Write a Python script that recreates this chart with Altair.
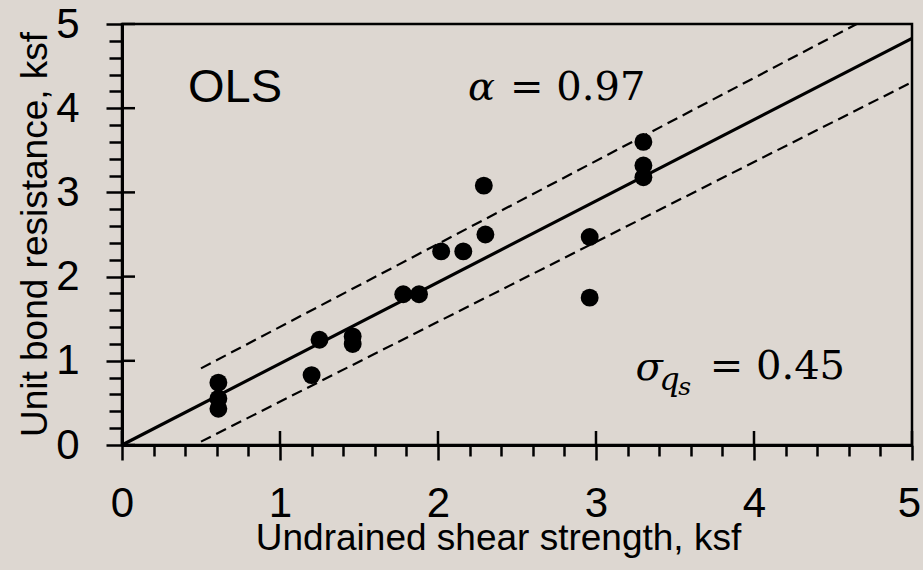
import altair as alt
import pandas as pd

# ---- data ----
su = [0.61, 0.61, 0.61, 1.20, 1.25, 1.46, 1.46, 1.78, 1.88, 2.02, 2.16, 2.30, 2.29, 2.96, 2.96, 3.30, 3.30, 3.30]
qs = [0.74, 0.55, 0.43, 0.83, 1.25, 1.29, 1.20, 1.79, 1.79, 2.30, 2.30, 2.50, 3.08, 2.47, 1.75, 3.60, 3.32, 3.18]

fit_x = [0.0, 5.0]
fit_y = [0.0, 4.83]
upper_x = [0.5, 4.65]
upper_y = [0.91, 5.0]
lower_x = [0.5, 5.0]
lower_y = [0.04, 4.31]

tick_values = [round(i * 0.2, 1) for i in range(26)]
major_ticks = [0, 1, 2, 3, 4, 5]

ann_ols = ["OLS"]
ann_eq_text = ["= 0.97", "= 0.45"]

W, H = 790, 421
BG = "#ddd7d1"
SANS = "Liberation Sans"
SERIF = "DejaVu Serif"

xs = alt.Scale(domain=[0, 5], nice=False, zero=False)
ys = alt.Scale(domain=[0, 5], nice=False, zero=False)

is_major = "abs(datum.value - round(datum.value)) < 0.001"

x_axis = alt.Axis(
    values=tick_values,
    labelExpr=f"({is_major}) ? format(datum.value, 'd') : ''",
    labelFlush=False, labelOverlap=False, grid=False,
    domainColor="black", domainWidth=3,
    tickColor="black", tickWidth=2.5,
    tickSize={"condition": {"test": is_major, "value": 15}, "value": 11},
    labelFont=SANS, labelFontSize=42, labelColor="black", labelPadding=23,
    labelOffset={"condition": {"test": "datum.value >= 4.99", "value": -3}, "value": 0},
    title="Undrained shear strength, ksf",
    titleFont=SANS, titleFontSize=37, titleFontWeight="normal", titleColor="black",
    titleX=376, titleY=104, titleBaseline="alphabetic", titleAlign="center",
)
y_axis = alt.Axis(
    values=tick_values,
    labelExpr=f"({is_major}) ? format(datum.value, 'd') : ''",
    labelFlush=False, labelOverlap=False, grid=False,
    domainColor="black", domainWidth=3,
    tickColor="black", tickWidth=2.5,
    tickSize={"condition": {"test": is_major, "value": 16}, "value": 13},
    labelFont=SANS, labelFontSize=42, labelColor="black", labelPadding=27,
    title="Unit bond resistance, ksf",
    titleFont=SANS, titleFontSize=37, titleFontWeight="normal", titleColor="black",
    titleAngle=270, titleX=-76, titleY=210, titleBaseline="alphabetic", titleAlign="center",
)

X = lambda f="x": alt.X(f"{f}:Q", scale=xs, axis=x_axis)
Y = lambda f="y": alt.Y(f"{f}:Q", scale=ys, axis=y_axis)

pts = pd.DataFrame({"x": su, "y": qs})
fit = pd.DataFrame({"x": fit_x, "y": fit_y})
up = pd.DataFrame({"x": upper_x, "y": upper_y})
lo = pd.DataFrame({"x": lower_x, "y": lower_y})

fit_layer = alt.Chart(fit).mark_line(color="black", strokeWidth=3.2).encode(x=X(), y=Y())
up_layer = alt.Chart(up).mark_line(color="black", strokeWidth=2.2, strokeDash=[11, 6]).encode(x=X(), y=Y())
lo_layer = alt.Chart(lo).mark_line(color="black", strokeWidth=2.2, strokeDash=[11, 6]).encode(x=X(), y=Y())
pt_layer = alt.Chart(pts).mark_circle(color="black", opacity=1, size=320).encode(x=X(), y=Y())

def txt(texts, xv, yv, font, size, style="normal"):
    df = pd.DataFrame({"x": xv, "y": yv, "t": texts})
    return alt.Chart(df).mark_text(
        align="left", baseline="alphabetic", font=font, fontSize=size,
        fontStyle=style, color="black"
    ).encode(x=X(), y=Y(), text="t:N")

t_ols = txt(ann_ols, [0.418], [4.074], SANS, 47)
t_eq = txt(ann_eq_text, [2.456, 3.72], [4.097, 0.784], SERIF, 40)
t_greek = txt(["α", "σ"], [2.19, 3.25], [4.097, 0.772], SERIF, 40, "italic")
t_q = txt(["q"], [3.40], [0.653], SERIF, 32, "italic")
t_s = txt(["s"], [3.52], [0.594], SERIF, 25, "italic")

maj = pd.DataFrame({"v": major_ticks})
x_in = alt.Chart(maj).mark_rule(color="black", strokeWidth=2.5).encode(
    x=alt.X("v:Q", scale=xs, axis=x_axis), y=alt.value(H), y2=alt.value(H - 14))
y_in = alt.Chart(maj).mark_rule(color="black", strokeWidth=2.5).encode(
    y=alt.Y("v:Q", scale=ys, axis=y_axis), x=alt.value(0), x2=alt.value(13))

chart = alt.layer(
    up_layer, lo_layer, fit_layer, pt_layer, t_ols, t_eq, t_greek, t_q, t_s, x_in, y_in
).properties(
    width=W, height=H,
    padding={"left": 122, "top": 24, "right": 11, "bottom": 125},
    autosize=alt.AutoSizeParams(type="none"),
).configure(background=BG).configure_view(stroke="black", strokeWidth=2.5)

chart.save("out.html", embed_options={"renderer": "svg", "actions": False})
